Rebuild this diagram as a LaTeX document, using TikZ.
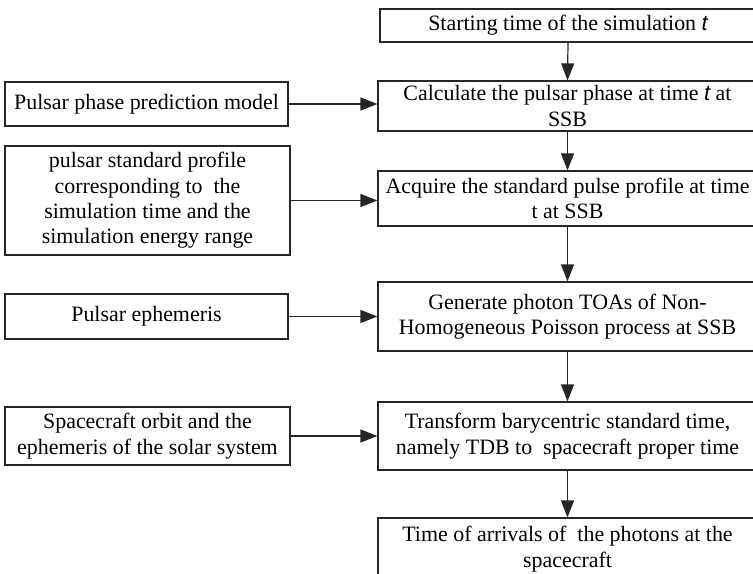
\documentclass[tikz,border=0pt]{standalone}
\usepackage{fontspec}
\setmainfont{Liberation Serif}
\newfontfamily\tsym{Liberation Sans}
\usetikzlibrary{arrows.meta}

\newcommand{\tvar}{{\tsym\itshape t}}

\begin{document}
\begin{tikzpicture}[x=1bp, y=-1bp,
    every node/.style={draw=black!85, line width=1.2bp, align=center, inner sep=0pt,
                       font=\fontsize{22}{25.5}\selectfont},
    arr/.style={draw=black!85, line width=1.2bp, -{Triangle[length=17bp,width=13bp]}}]
                \useasboundingbox (0,0) rectangle (753,574);
                \clip (0,0) rectangle (753,574);
                % main chain, right column
                \node[minimum width=376bp, minimum height=33bp] (start) at (568,25.5) {Starting time of the simulation \tvar};
                \node[minimum width=379bp, minimum height=50bp] (calc) at (567.5,106) {Calculate the pulsar phase at time \tvar{} at\\SSB};
                \node[minimum width=379bp, minimum height=55bp] (acq) at (567.5,198.5) {Acquire the standard pulse profile at time\\t at SSB};
                \node[minimum width=379bp, minimum height=69bp] (gen) at (567.5,316.5) {Generate photon TOAs of Non-\\Homogeneous Poisson process at SSB};
                \node[minimum width=379bp, minimum height=68bp] (trans) at (567.5,436) {Transform barycentric standard time,\\namely TDB to\ \ spacecraft proper time};
                \node[minimum width=379bp, minimum height=62bp] (toa) at (567.5,549) {Time of arrivals of\ \ the photons at the\\spacecraft};
                % inputs, left column
                \node[minimum width=283bp, minimum height=44bp] (model) at (146.5,104) {Pulsar phase prediction model};
                \node[minimum width=285bp, minimum height=109bp] (prof) at (147.5,200.5) {pulsar standard profile\\corresponding to\ \ the\\simulation time and the\\simulation energy range};
                \node[minimum width=283bp, minimum height=45bp] (eph) at (146.5,316.5) {Pulsar ephemeris};
                \node[minimum width=285bp, minimum height=58bp] (orb) at (147.5,436) {Spacecraft orbit and the\\ephemeris of the solar system};
                \foreach \a/\b in {start/calc, calc/acq, acq/gen, gen/trans, trans/toa} {
                    \draw[arr] (\a.south) -- (\b.north);
                }
                \foreach \a/\b in {model/calc, prof/acq, eph/gen, orb/trans} {
                    \draw[arr] (\a.east) -- (\a.east -| \b.west);
                }
            \end{tikzpicture}
\end{document}
